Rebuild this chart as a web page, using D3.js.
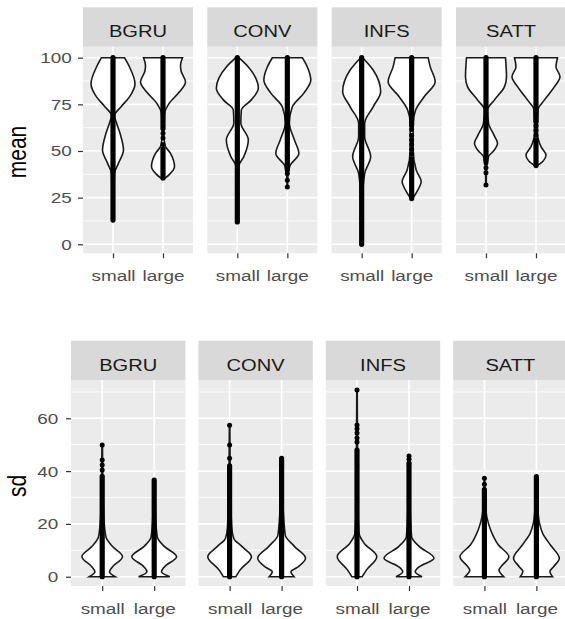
<!DOCTYPE html>
<html>
<head>
<meta charset="utf-8">
<script src="https://cdn.jsdelivr.net/npm/d3@7"></script>
<style>
  body { margin: 0; background: #fff; }
  svg { display: block; }
  text { font-family: "Liberation Sans", Arial, sans-serif; }
</style>
</head>
<body>
<div id="viz"></div>
<script>
// facets and groups
var methods = ["BGRU", "CONV", "INFS", "SATT"];
var sizes = ["small", "large"];

// tick values
var meanTicks = [0, 25, 50, 75, 100];
var meanMinor = [12.5, 37.5, 62.5, 87.5];
var sdTicks = [0, 20, 40, 60];
var sdMinor = [10, 30, 50, 70];

// violin outlines, top to bottom: [value, half width in x steps]
// one entry per method (BGRU, CONV, INFS, SATT)
var meanShapeSmall = [
  [[100, 0.23], [95, 0.33], [86, 0.44], [79, 0.33], [74, 0.17], [69, 0.03], [65, 0.07], [59.5, 0.14], [50.5, 0.21], [43.5, 0.11], [38, 0.03], [25, 0.015], [13, 0.01]],
  [[100, 0.03], [95, 0.22], [83.6, 0.42], [77.4, 0.28], [72, 0.08], [65, 0.07], [56, 0.22], [47, 0.13], [42, 0.03], [25, 0.012], [12, 0.01]],
  [[100, 0.02], [93.4, 0.23], [81.8, 0.38], [73.7, 0.23], [64.8, 0.06], [57.7, 0.06], [47, 0.18], [38, 0.06], [25, 0.02], [0, 0.01]],
  [[100, 0.39], [89.8, 0.41], [84.5, 0.37], [77.4, 0.17], [72, 0.03], [65, 0.05], [58, 0.17], [54.2, 0.23], [50, 0.15], [47, 0.05], [40, 0.01], [31.5, 0.005]]
];
var meanShapeLarge = [
  [[100, 0.39], [96, 0.35], [93, 0.36], [87, 0.45], [81.7, 0.33], [75.4, 0.12], [70, 0.03], [59.5, 0.015], [53, 0.04], [48.7, 0.15], [41.6, 0.23], [37.5, 0.13], [35.4, 0.04]],
  [[100, 0.3], [95, 0.4], [88, 0.47], [81, 0.33], [73.7, 0.1], [65, 0.04], [56, 0.14], [48.7, 0.23], [42, 0.05], [36, 0.01], [30, 0.005]],
  [[100, 0.33], [95.2, 0.37], [87.1, 0.47], [79.1, 0.25], [72, 0.08], [64.8, 0.03], [50.5, 0.03], [39.8, 0.09], [33.6, 0.19], [28, 0.1], [24.5, 0.02]],
  [[100, 0.43], [95.2, 0.4], [89.8, 0.48], [84.5, 0.37], [77.4, 0.17], [72, 0.04], [59.5, 0.03], [52.3, 0.1], [47.8, 0.2], [44.5, 0.14], [42.4, 0.04]]
];
var sdShapeSmall = [
  [[50, 0.005], [38, 0.01], [22.7, 0.03], [15.2, 0.07], [11.4, 0.2], [7.6, 0.39], [3.8, 0.2], [1.9, 0.14], [0, 0.25]],
  [[57.5, 0.005], [42, 0.01], [19, 0.04], [14.5, 0.08], [11.4, 0.24], [7.6, 0.42], [2.5, 0.2], [0, 0.12]],
  [[70.7, 0.004], [50, 0.01], [25, 0.02], [16.4, 0.04], [12.6, 0.14], [7.6, 0.38], [2.5, 0.18], [0, 0.1]],
  [[37.3, 0.005], [25, 0.03], [21.5, 0.06], [17.7, 0.12], [12, 0.27], [7.6, 0.47], [3.8, 0.32], [2.5, 0.28], [0, 0.37]]
];
var sdShapeLarge = [
  [[36.6, 0.005], [25, 0.02], [15, 0.06], [11.4, 0.2], [7.6, 0.43], [3.8, 0.2], [1.9, 0.14], [0, 0.3]],
  [[44.8, 0.005], [30, 0.02], [15.8, 0.07], [11.4, 0.25], [7, 0.46], [3.5, 0.3], [1.9, 0.18], [0, 0.24]],
  [[45.7, 0.005], [30, 0.015], [15.2, 0.05], [11.4, 0.2], [7, 0.48], [3.8, 0.2], [1.9, 0.12], [0, 0.25]],
  [[37.9, 0.005], [25, 0.03], [20.2, 0.06], [16.4, 0.12], [12, 0.27], [7, 0.44], [3.8, 0.33], [2, 0.26], [0, 0.31]]
];

// points: dense runs [from, to] where the dots merge, and single dots
var meanRunsSmall = [[[13, 100]], [[12, 100]], [[0, 100]], [[45, 100]]];
var meanRunsLarge = [[[35.5, 51], [62, 100]], [[40, 100]], [[24.5, 44], [64, 100]], [[42.2, 56], [66, 100]]];
var meanDotsSmall = [[], [], [], [31.8, 38.4, 41, 43.7]];
var meanDotsLarge = [[53.5, 57, 59.5], [30.7, 34.3, 37.9], [46, 48.5, 51, 53.5, 56, 58.5, 61.5], [58.5, 61, 63.5]];
var sdRunsSmall = [[[0, 38]], [[0, 42]], [[0, 48]], [[0, 33]]];
var sdRunsLarge = [[[0, 36.6]], [[0, 44.8]], [[0, 43]], [[0, 37.9]]];
var sdDotsSmall = [[40.4, 42.3, 44.2, 49.9], [44.9, 49.9, 57.4], [51, 52.5, 54.4, 56, 57.5, 70.7], [35, 37.3]];
var sdDotsLarge = [[], [], [44.5, 45.7], []];

var W = 565, H = 619;
var stretch = 1.22; // text in the picture is a little wider than tall

var svg = d3.select("div#viz")
  .append("svg")
  .attr("width", W)
  .attr("height", H);

// draw one row of facets
function drawRow(cfg) {
  var y = d3.scaleLinear()
    .domain([0, cfg.ticks[cfg.ticks.length - 1]])
    .range([cfg.zeroY, cfg.maxY]);

  methods.forEach(function (m, i) {
    var left = cfg.left + i * cfg.step;
    var g = svg.append("g");

    var x = d3.scalePoint()
      .domain(sizes)
      .range([left, left + cfg.width])
      .padding(0.6);
    var bw = x.step();

    // panel background
    g.append("rect")
      .attr("x", left).attr("y", cfg.top)
      .attr("width", cfg.width).attr("height", cfg.bottom - cfg.top)
      .attr("fill", "#EBEBEB");

    // grid
    g.selectAll(".minor").data(cfg.minor).enter().append("line")
      .attr("x1", left).attr("x2", left + cfg.width)
      .attr("y1", function (d) { return y(d); })
      .attr("y2", function (d) { return y(d); })
      .attr("stroke", "#fff").attr("stroke-width", 0.9);
    g.selectAll(".major").data(cfg.ticks).enter().append("line")
      .attr("x1", left).attr("x2", left + cfg.width)
      .attr("y1", function (d) { return y(d); })
      .attr("y2", function (d) { return y(d); })
      .attr("stroke", "#fff").attr("stroke-width", 1.6);
    g.selectAll(".vmajor").data(sizes).enter().append("line")
      .attr("x1", function (d) { return x(d); })
      .attr("x2", function (d) { return x(d); })
      .attr("y1", cfg.top).attr("y2", cfg.bottom)
      .attr("stroke", "#fff").attr("stroke-width", 1.6);

    // strip
    g.append("rect")
      .attr("x", left).attr("y", cfg.stripTop)
      .attr("width", cfg.width).attr("height", cfg.top - cfg.stripTop)
      .attr("fill", "#D9D9D9");
    g.append("text")
      .attr("transform", "translate(" + (left + cfg.width / 2) + "," + cfg.stripBase + ") scale(" + stretch + ",1)")
      .attr("text-anchor", "middle")
      .style("font-size", "16.5px")
      .attr("fill", "#1A1A1A")
      .text(m);

    // violins and points
    sizes.forEach(function (s, j) {
      var cx = x(s);
      var shape = cfg.shapes[j][i];
      var area = d3.area()
        .curve(d3.curveMonotoneY)
        .y(function (d) { return y(d[0]); })
        .x0(function (d) { return cx - d[1] * bw; })
        .x1(function (d) { return cx + d[1] * bw; });
      g.append("path")
        .attr("d", area(shape))
        .attr("fill", "#fff")
        .attr("stroke", "#1A1A1A")
        .attr("stroke-width", 1.6);

      g.selectAll(".run" + j).data(cfg.runs[j][i]).enter().append("line")
        .attr("x1", cx).attr("x2", cx)
        .attr("y1", function (d) { return y(d[0]); })
        .attr("y2", function (d) { return y(d[1]); })
        .attr("stroke", "#000").attr("stroke-width", 5.2)
        .attr("stroke-linecap", "round");

      g.selectAll(".dot" + j).data(cfg.dots[j][i]).enter().append("circle")
        .attr("cx", cx)
        .attr("cy", function (d) { return y(d); })
        .attr("r", 2.5)
        .attr("fill", "#000");
    });

    // x axis
    var xa = g.append("g")
      .attr("transform", "translate(0," + cfg.bottom + ")")
      .call(d3.axisBottom(x).tickSize(5).tickPadding(12));
    xa.select(".domain").remove();
    xa.selectAll(".tick line").attr("stroke", "#333").attr("stroke-width", 1.2);
    xa.selectAll(".tick text")
      .attr("fill", "#4D4D4D")
      .style("font-size", "15.5px")
      .attr("transform", "scale(" + stretch + ",1)");
  });

  // y axis on first panel
  var ya = svg.append("g")
    .attr("transform", "translate(" + cfg.left + ",0)")
    .call(d3.axisLeft(y).tickValues(cfg.ticks).tickSize(5).tickPadding(cfg.yPad));
  ya.select(".domain").remove();
  ya.selectAll(".tick line").attr("stroke", "#333").attr("stroke-width", 1.2);
  ya.selectAll(".tick text")
    .attr("fill", "#4D4D4D")
    .style("font-size", "15.5px")
    .attr("transform", "scale(" + stretch + ",1)");

  // y axis title
  svg.append("text")
    .attr("transform", "translate(" + cfg.titleX + "," + cfg.titleY + ") scale(" + stretch + ",1) rotate(-90)")
    .attr("text-anchor", "middle")
    .style("font-size", "21px")
    .attr("fill", "#000")
    .text(cfg.title);
}

drawRow({
  title: "mean", titleX: 26, titleY: 152,
  ticks: meanTicks, minor: meanMinor,
  zeroY: 244.3, maxY: 57.7,
  left: 83, step: 124.33, width: 110,
  stripTop: 7.3, top: 46.7, bottom: 253.3, stripBase: 36.5,
  yPad: 4.3,
  shapes: [meanShapeSmall, meanShapeLarge],
  runs: [meanRunsSmall, meanRunsLarge],
  dots: [meanDotsSmall, meanDotsLarge]
});

drawRow({
  title: "sd", titleX: 26, titleY: 486,
  ticks: sdTicks, minor: sdMinor,
  zeroY: 576.7, maxY: 418.3,
  left: 71, step: 127.4, width: 114.4,
  stripTop: 340.7, top: 380, bottom: 586, stripBase: 370.5,
  yPad: 5.4,
  shapes: [sdShapeSmall, sdShapeLarge],
  runs: [sdRunsSmall, sdRunsLarge],
  dots: [sdDotsSmall, sdDotsLarge]
});
</script>
</body>
</html>
